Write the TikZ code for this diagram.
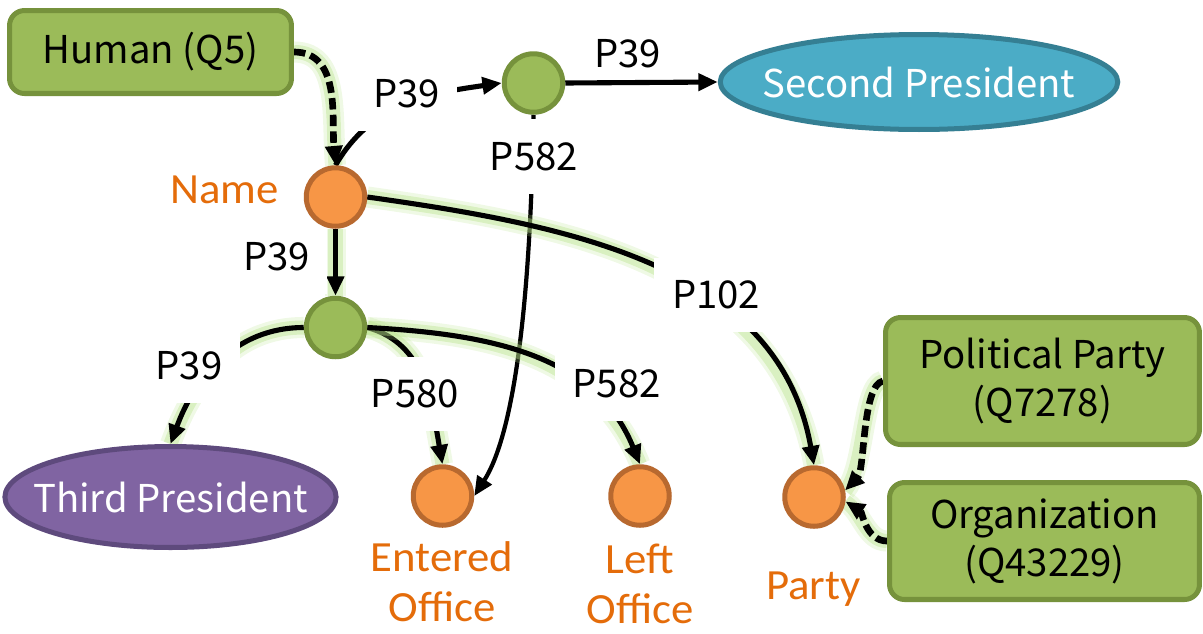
\documentclass[tikz,border=0pt]{standalone}
\usepackage{fontspec}
\setmainfont{Noto Sans CJK SC}
\newfontfamily\calfont[FakeStretch=1.04]{Carlito}
\usetikzlibrary{arrows.meta,shapes.geometric}
\pgfdeclarelayer{bg}
\pgfsetlayers{bg,main}
\definecolor{gfill}{HTML}{9BBB59}
\definecolor{gline}{HTML}{76923C}
\definecolor{ofill}{HTML}{F79646}
\definecolor{oline}{HTML}{B8692F}
\definecolor{otext}{HTML}{E46C0A}
\definecolor{bfill}{HTML}{4BACC6}
\definecolor{bline}{HTML}{357F93}
\definecolor{pfill}{HTML}{8064A2}
\definecolor{pline}{HTML}{5E4A7D}
\definecolor{glowc}{HTML}{B8E38A}
\begin{document}
\begin{tikzpicture}[x=0.02cm,y=-0.02cm,
  bigtxt/.style={font=\fontsize{21.8}{27.3}\selectfont},
  gbox/.style={draw=gline, fill=gfill, line width=2.85pt, rounded corners=0.3cm, align=center, bigtxt, inner sep=0pt},
  dot/.style={circle, minimum size=1.17cm, inner sep=0pt, line width=2.85pt},
  odot/.style={dot, fill=ofill, draw=oline},
  gdot/.style={dot, fill=gfill, draw=gline},
  ell/.style={ellipse, inner ysep=0pt, line width=2.85pt, text=white, bigtxt},
  lbl/.style={fill=white, bigtxt, inner xsep=10pt, inner ysep=13pt},
  lblnf/.style={bigtxt, inner sep=0pt},
  olbl/.style={text=otext, align=center, font=\calfont\fontsize{24.5}{28.4}\selectfont, inner sep=0pt},
  arr/.style={line width=2.9pt, -{Triangle[length=11pt,width=9.5pt]}},
  dsh/.style={line width=3.8pt, dash pattern=on 6.5pt off 3pt, -{Triangle[length=11pt,width=9.5pt]}},
  glow/.style={preaction={draw=glowc, line width=12pt, draw opacity=0.22, -, solid},
               preaction={draw=glowc, line width=8pt, draw opacity=0.4, -, solid}}
]
\useasboundingbox (0,0) rectangle (1203,633);

% edge labels (white boxes hide the connectors beneath them)
\node[lbl] (l1) at (406.5,93.5) {P39};
\node[lblnf] (l2) at (627.5,53.5) {P39};
\node[lbl] (l3) at (534,156.5) {P582};
\node[lbl] (l4) at (276.5,256.5) {P39};
\node[lbl] (l5) at (189,366) {P39};
\node[lbl] (l6) at (415,394) {P580};
\node[lbl] (l7) at (616.5,383.5) {P582};
\node[lbl] (l8) at (716,295) {P102};

% nodes
\node[gbox, minimum width=5.64cm, minimum height=1.66cm] (human) at (150.5,52) {Human (Q5)};
\node[gbox, minimum width=6.28cm, minimum height=2.54cm] (pol) at (1042.5,381) {Political Party\\(Q7278)};
\node[gbox, minimum width=6.2cm, minimum height=2.34cm] (org) at (1044.5,541) {Organization\\(Q43229)};
\node[ell, fill=bfill, draw=bline, inner xsep=-9pt, minimum width=7.94cm, minimum height=1.9cm] (second) at (919,82) {Second President};
\node[ell, fill=pfill, draw=pline, inner xsep=-11.5pt, minimum width=6.6cm, minimum height=2.02cm] (third) at (170.5,497) {Third President};
\node[odot] (name) at (335.5,197) {};
\node[gdot] (topg) at (533.5,83) {};
\node[gdot] (mid) at (335.5,327.5) {};
\node[odot] (entered) at (442.5,496) {};
\node[odot] (left) at (640,496) {};
\node[odot] (party) at (814,497) {};

% orange labels
\node[olbl] (namelbl) at (224.5,189.5) {Name};
\node[olbl] (enteredlbl) at (442,582) {Entered\\Office};
\node[olbl] (leftlbl) at (640,583.5) {Left\\Office};
\node[olbl] (partylbl) at (813.5,589) {Party};

% edges
\begin{pgfonlayer}{bg}
\draw[dsh,glow] (human.east) to[out=0,in=95] (name.north);
\draw[arr] (name.north) to[out=60,in=188] (topg.west);
\draw[arr] (topg.east) -- (second.west);
\draw[arr,line width=2.4pt] (topg.south) .. controls (530,330) and (510,440) .. (entered.east);
\draw[arr,glow] (name.south) -- (mid.north);
\draw[arr,glow] (name.east) to[out=-8,in=100] (party.north);
\draw[arr,glow] (mid.west) to[out=180,in=70] (third.north);
\draw[arr,glow] (mid.east) to[out=-15,in=100] (entered.north);
\draw[arr,glow] (mid.east) to[out=-3,in=112] (left.north);
\draw[dsh,glow] (pol.west) .. controls (862,385) and (865,470) .. (party.12);
\draw[dsh,glow] (org.west) .. controls (866,541) and (862,512) .. (party.-8);
\end{pgfonlayer}
\end{tikzpicture}
\end{document}
